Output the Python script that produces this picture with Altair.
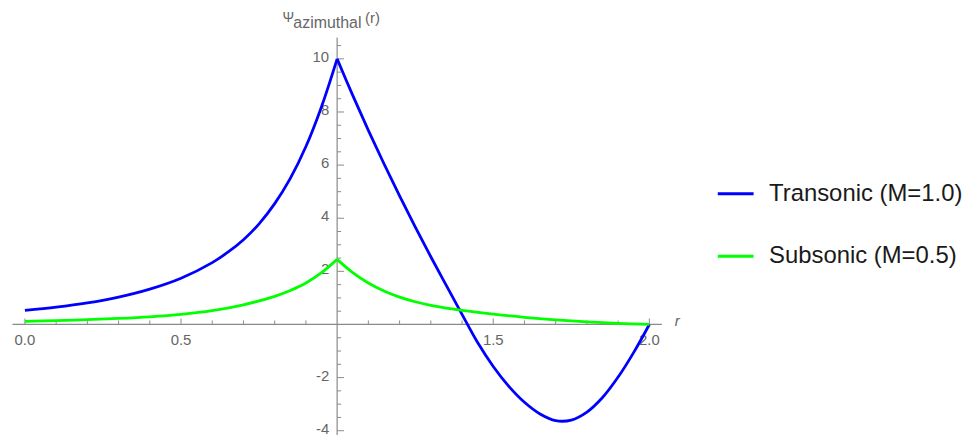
import altair as alt
import pandas as pd

# ---- data ----
series_names = ["Transonic (M=1.0)", "Subsonic (M=0.5)"]
series_colors = ["#0000ff", "#00ff00"]

blue_r = [0.0, 0.1, 0.2, 0.3, 0.4, 0.5, 0.6, 0.65, 0.7, 0.75, 0.8, 0.85, 0.9, 0.95, 1.0,
          1.05, 1.1, 1.15, 1.2, 1.25, 1.3, 1.35, 1.4,
          1.45, 1.5, 1.55, 1.6, 1.65, 1.7, 1.75, 1.8, 1.85, 1.9, 1.95, 2.0]
blue_v = [0.53, 0.65, 0.81, 1.03, 1.33, 1.74, 2.33, 2.72, 3.19, 3.79, 4.55, 5.5, 6.7, 8.2, 10.0,
          8.625, 7.31, 6.05, 4.84, 3.675, 2.55, 1.46, 0.38,
          -0.68, -1.58, -2.33, -2.93, -3.37, -3.62, -3.6, -3.3, -2.75, -1.98, -1.05, 0.0]

green_r = [0.0, 0.1, 0.2, 0.3, 0.4, 0.5, 0.6, 0.7, 0.8, 0.85, 0.9, 0.95, 1.0,
           1.05, 1.1, 1.15, 1.2, 1.25, 1.3, 1.35, 1.4, 1.5, 1.6, 1.7, 1.8, 1.9, 2.0]
green_v = [0.12, 0.148, 0.183, 0.229, 0.29, 0.38, 0.52, 0.74, 1.06, 1.28, 1.56, 1.95, 2.45,
           1.95, 1.56, 1.26, 1.03, 0.855, 0.72, 0.615, 0.53, 0.39, 0.27, 0.175, 0.1, 0.045, 0.0]

x_major = [0.0, 0.5, 1.5, 2.0]
x_major_labels = ["0.0", "0.5", "1.5", "2.0"]
x_minor = [0.1, 0.2, 0.3, 0.4, 0.6, 0.7, 0.8, 0.9, 1.1, 1.2, 1.3, 1.4, 1.6, 1.7, 1.8, 1.9]
y_major = [-4, -2, 2, 4, 6, 8, 10]
y_major_labels = ["-4", "-2", "2", "4", "6", "8", "10"]
y_minor = [-3.5, -3, -2.5, -1.5, -1, -0.5, 0.5, 1, 1.5, 2.5, 3, 3.5, 4.5, 5, 5.5,
           6.5, 7, 7.5, 8.5, 9, 9.5, 10.5]

title_parts = ["Ψ", "azimuthal", "(r)"]

axis_x_range = [-0.04, 2.04]
axis_y_range = [-4.16, 10.8]
x_domain = [-0.0542, 3.0046]
y_domain = [-4.157, 11.873]

W, H = 960, 428
FONT = "Liberation Sans"
AX = "#8a8a8a"
LAB = "#666666"

# ---- tables ----
rows = []
for r, v in zip(blue_r, blue_v):
    rows.append({"r": r, "v": v, "series": series_names[0],
                 "seg": "bL" if r <= 1.0 else "bR"})
    if r == 1.0:
        rows.append({"r": r, "v": v, "series": series_names[0], "seg": "bR"})
for r, v in zip(green_r, green_v):
    rows.append({"r": r, "v": v, "series": series_names[1],
                 "seg": "gL" if r <= 1.0 else "gR"})
    if r == 1.0:
        rows.append({"r": r, "v": v, "series": series_names[1], "seg": "gR"})
lines_df = pd.DataFrame(rows)

xs = alt.Scale(domain=x_domain, nice=False, zero=False)
ys = alt.Scale(domain=y_domain, nice=False, zero=False)

def X(f="x"):
    return alt.X(f, type="quantitative", scale=xs, axis=None)

def Y(f="y"):
    return alt.Y(f, type="quantitative", scale=ys, axis=None)

axis_df = pd.DataFrame({"x": [axis_x_range[0], 1.0], "x2": [axis_x_range[1], 1.0],
                        "y": [0.0, axis_y_range[0]], "y2": [0.0, axis_y_range[1]]})
axes = alt.Chart(axis_df).mark_rule(color=AX, strokeWidth=1.2).encode(
    x=X("x"), x2="x2", y=Y("y"), y2="y2")

xmaj_df = pd.DataFrame({"x": x_major, "y": [0.0] * len(x_major), "lab": x_major_labels})
xmin_df = pd.DataFrame({"x": x_minor, "y": [0.0] * len(x_minor)})
ymaj_df = pd.DataFrame({"y": y_major, "x": [1.0] * len(y_major), "lab": y_major_labels})
ymin_df = pd.DataFrame({"y": y_minor, "x": [1.0] * len(y_minor)})

xmaj_t = alt.Chart(xmaj_df).mark_rule(color=AX, strokeWidth=1, y2Offset=-6).encode(
    x=X("x"), y=Y("y"), y2="y")
xmin_t = alt.Chart(xmin_df).mark_rule(color=AX, strokeWidth=1, y2Offset=-4).encode(
    x=X("x"), y=Y("y"), y2="y")
ymaj_t = alt.Chart(ymaj_df).mark_rule(color=AX, strokeWidth=1, x2Offset=7).encode(
    x=X("x"), x2="x", y=Y("y"))
ymin_t = alt.Chart(ymin_df).mark_rule(color=AX, strokeWidth=1, x2Offset=4).encode(
    x=X("x"), x2="x", y=Y("y"))

xlab = alt.Chart(xmaj_df).mark_text(font=FONT, fontSize=15, color=LAB, baseline="top",
                                    align="center", dy=9).encode(
    x=X("x"), y=Y("y"), text="lab")
ylab = alt.Chart(ymaj_df).mark_text(font=FONT, fontSize=15, color=LAB, baseline="middle",
                                    align="right", dx=-8, dy=-2).encode(
    x=X("x"), y=Y("y"), text="lab")

lines = alt.Chart(lines_df).mark_line(strokeWidth=2.8, interpolate="catmull-rom").encode(
    x=X("r"), y=Y("v"),
    color=alt.Color("series:N",
                    scale=alt.Scale(domain=series_names, range=series_colors),
                    sort=series_names,
                    legend=alt.Legend(orient="none", legendX=712, legendY=166, title=None,
                                      symbolType="stroke", symbolSize=1296,
                                      symbolStrokeWidth=3, labelFontSize=24,
                                      labelFont=FONT, labelColor="#1a1a1a",
                                      labelLimit=400,
                                      labelOffset=14, rowPadding=31)),
    detail="seg:N", order="r:Q")

rlab_df = pd.DataFrame({"x": [axis_x_range[1]], "y": [0.0], "t": ["r"]})
rlab = alt.Chart(rlab_df).mark_text(font=FONT, fontSize=15, fontStyle="italic", color=LAB,
                                    align="left", baseline="alphabetic", dx=13, dy=2).encode(
    x=X("x"), y=Y("y"), text="t")

title_df = pd.DataFrame({"x": [1.0] * 3, "y": [y_domain[1]] * 3, "t": title_parts})
t1 = alt.Chart(title_df.iloc[[0]]).mark_text(font=FONT, fontSize=14, color=LAB, align="left",
                                             baseline="alphabetic", dx=-55, dy=13).encode(
    x=X("x"), y=Y("y"), text="t")
t2 = alt.Chart(title_df.iloc[[1]]).mark_text(font=FONT, fontSize=16, color=LAB, align="left",
                                             baseline="alphabetic", dx=-44, dy=19).encode(
    x=X("x"), y=Y("y"), text="t")
t3 = alt.Chart(title_df.iloc[[2]]).mark_text(font=FONT, fontSize=15, color=LAB, align="left",
                                             baseline="alphabetic", dx=28, dy=14).encode(
    x=X("x"), y=Y("y"), text="t")

chart = alt.layer(axes, xmaj_t, xmin_t, ymaj_t, ymin_t, xlab, ylab, lines, rlab, t1, t2, t3
                  ).properties(width=W, height=H, padding=0, autosize="none",
                               background="white"
                  ).configure_view(stroke=None)

chart.save("out.html", embed_options={"renderer": "svg", "actions": False})
